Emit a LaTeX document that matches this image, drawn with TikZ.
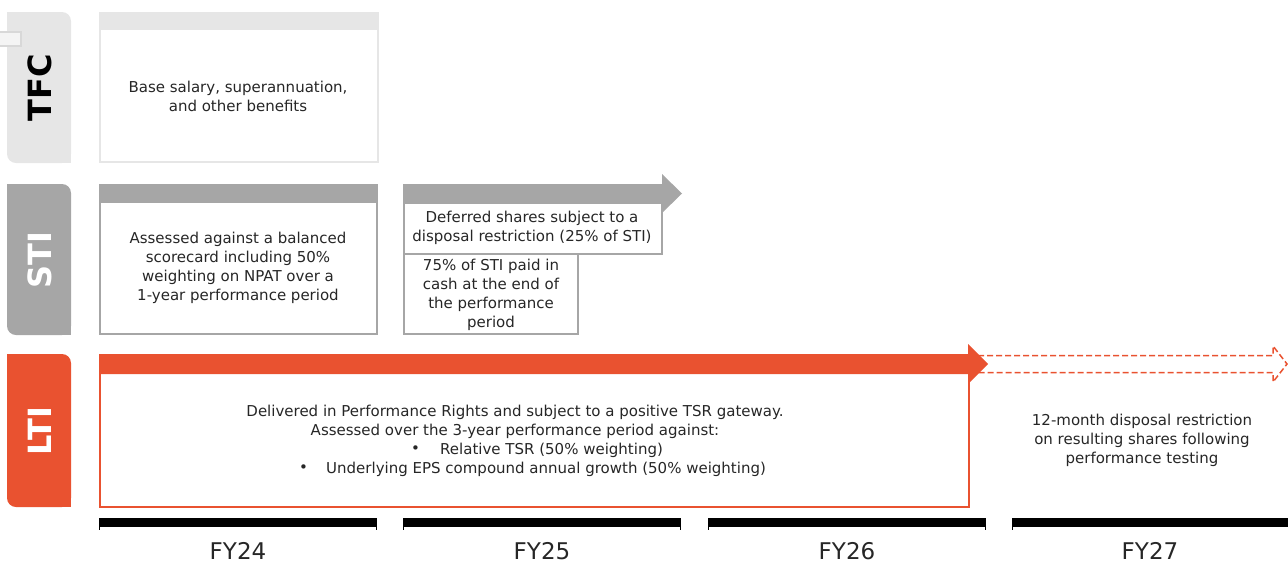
\documentclass[tikz,border=0pt]{standalone}
\usepackage{fontspec}
\setmainfont{DejaVu Sans}
\definecolor{org}{HTML}{E95230}
\definecolor{gry}{HTML}{A6A6A6}
\definecolor{lgry}{HTML}{E6E6E6}
\tikzset{
  txt/.style={align=center,font=\fontsize{15}{19}\selectfont,text=black!85,inner sep=0pt},
  tablabel/.style={rotate=90,font=\fontsize{32}{32}\selectfont\bfseries,inner sep=0pt},
  fylabel/.style={font=\fontsize{23}{28}\selectfont,text=black!85,inner sep=0pt},
  yearbar/.style={fill=black},
}
\newcommand{\tabshape}[3]{% color, top y, bottom y
  \fill[#1,rounded corners=9pt] (7,#2) rectangle (71,#3);
  \fill[#1] (7,#2) rectangle (20,#2+13);
  \fill[#1] (58,#3-13) rectangle (71,#3);
}
\begin{document}
\begin{tikzpicture}[x=1pt,y=-1pt]
\useasboundingbox (0,0) rectangle (1288,563);
% tabs
\tabshape{lgry}{12}{163}
\tabshape{gry}{184}{335}
\tabshape{org}{354}{507}
% small artifact box
\draw[lgry!94!black,line width=1.2pt,fill=lgry!45] (-2,32) rectangle (21,46);
\node[tablabel,text=black] (tfc) at (40,88) {TFC};
\node[tablabel,text=white] (sti) at (40,260) {STI};
\node[tablabel,text=white] (lti) at (40,431) {LTI};
% TFC box
\draw[lgry,line width=1.5pt] (100,13) rectangle (378,162);
\fill[lgry] (99,12) rectangle (379,30);
\node[txt] (tfctxt) at (238,96) {Base salary, superannuation,\\and other benefits};
% STI box
\draw[gry,line width=1.5pt] (100,185) rectangle (377,334);
\fill[gry] (99,184) rectangle (378,203);
\node[txt] (stitxt) at (238,268) {Assessed against a balanced\\scorecard including 50\%\\weighting on NPAT over a\\1-year performance period};
% STI arrow
\fill[gry] (403,184) -- (662,184) -- (662,174) -- (682,193.5) -- (662,213) -- (662,203) -- (403,203) -- cycle;
\draw[gry,line width=1.5pt] (404,203) rectangle (662,254);
\node[txt] (def) at (532,228) {Deferred shares subject to a\\disposal restriction (25\% of STI)};
\draw[gry,line width=1.5pt] (404,254) rectangle (578,334);
\node[txt] (cash) at (491,294.5) {75\% of STI paid in\\cash at the end of\\the performance\\period};
% LTI dashed arrow
\draw[org,line width=1.5pt,dash pattern=on 6pt off 3pt] (978,355.5) -- (1273,355.5) -- (1273,346) -- (1287,364) -- (1273,382) -- (1273,372.5) -- (978,372.5);
% LTI box & arrow
\draw[org,line width=1.5pt] (100,355) rectangle (969,507);
\fill[org] (99,354) -- (968,354) -- (968,344) -- (988,364) -- (968,384) -- (968,374) -- (99,374) -- cycle;
\node[txt] (ltitxt) at (515,412) {Delivered in Performance Rights and subject to a positive TSR gateway.};
\node[txt] (ltitxt2) at (515,431) {Assessed over the 3-year performance period against:};
\node[txt,anchor=west] (b1) at (411,450) {\textbullet};
\node[txt,anchor=west] (b1t) at (440,450) {Relative TSR (50\% weighting)};
\node[txt,anchor=west] (b2) at (299,469) {\textbullet};
\node[txt,anchor=west] (b2t) at (326,469) {Underlying EPS compound annual growth (50\% weighting)};
\node[txt] (restr) at (1142,440) {12-month disposal restriction\\on resulting shares following\\performance testing};
% timeline
\foreach \a/\b/\n/\c in {99/377/FY24/238,403/681/FY25/542,708/986/FY26/847,1012/1290/FY27/1150}{
  \fill[yearbar] (\a,518) rectangle (\b,527);
  \draw[black,line width=0.8pt] (\a+0.4,518) -- (\a+0.4,530) (\b-0.4,518) -- (\b-0.4,530);
  \node[fylabel] (\n) at (\c,551) {\n};
}
\end{tikzpicture}
\end{document}
